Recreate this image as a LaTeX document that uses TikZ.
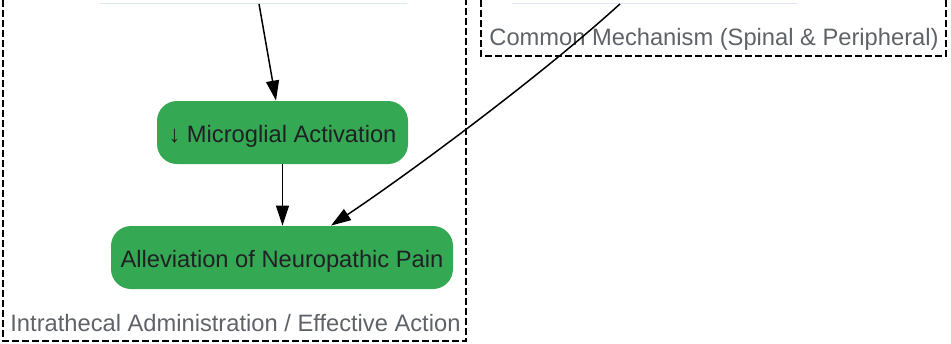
\documentclass[tikz,border=0pt]{standalone}
\usepackage{fontspec}
\setmainfont{Liberation Sans}
\usetikzlibrary{arrows.meta}
\definecolor{nodegreen}{HTML}{34A853}
\definecolor{nodetext}{HTML}{202124}
\definecolor{labelgray}{HTML}{5F6368}
\definecolor{fadeteal}{HTML}{DCEAE6}
\definecolor{fadeblue}{HTML}{DEE4F4}

\begin{document}
\begin{tikzpicture}[x=0.5pt, y=-0.5pt,
  stage/.style={rounded corners=10pt, fill=nodegreen, text=nodetext, minimum height=31.5pt, inner xsep=4.5pt, text height=9.5pt, text depth=0pt, font=\fontsize{11.85}{14}\selectfont},
  upstream/.style={minimum height=31.5pt},
  cluster/.style={dash pattern=on 3.3pt off 1.7pt, line width=0.7pt},
  clusterlabel/.style={text=labelgray, font=\fontsize{11.85}{14}\selectfont, inner sep=0pt},
  link/.style={-{Triangle[length=10pt,width=6.5pt]}, line width=0.75pt}]
\useasboundingbox (0,0) rectangle (951,343);

% clusters
\draw[cluster] (3,-20) rectangle (466,341);
\node[clusterlabel, anchor=base west] (lblL) at (10,331) {Intrathecal Administration / Effective Action};
\draw[cluster] (481,-20) rectangle (946,56);
\node[clusterlabel, anchor=base west] (lblR) at (489,45) {Common Mechanism (Spinal \& Peripheral)};

% nodes above the page, only their lower edge shows
\node[upstream, minimum width=153.5pt] (upL) at (253.5,-28) {};
\node[upstream, minimum width=142.5pt] (upR) at (654.5,-28) {};
\draw[fadeteal, line width=0.5pt] (upL.south west) -- (upL.south east);
\draw[fadeblue, line width=0.5pt] (upR.south west) -- (upR.south east);

\node[stage, minimum width=125.5pt] (micro) at (282.5,132.5) {↓ Microglial Activation};
\node[stage, minimum width=171pt] (alle) at (282,257.5) {Alleviation of Neuropathic Pain};

% edges
\draw[link] ([xshift=2.75pt]upL.south) -- ([xshift=-3.25pt]micro.north);
\draw[link] (micro.south) -- (micro.south |- alle.north);
\draw[link] ([xshift=-17.25pt]upR.south) .. controls +(-80,73) and +(75,-50) .. ([xshift=24.5pt]alle.north);
\end{tikzpicture}
\end{document}
